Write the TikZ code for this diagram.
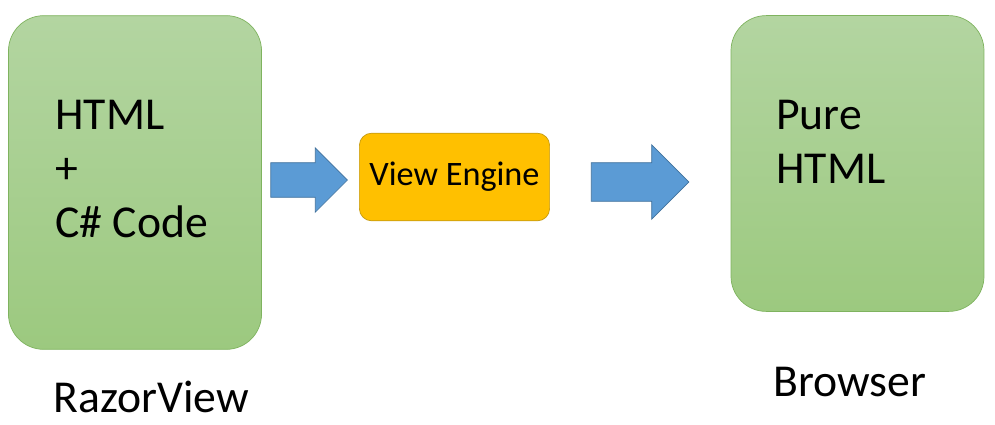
\documentclass[tikz,border=0pt]{standalone}
\usepackage{fontspec}
\setmainfont{Carlito}
\usetikzlibrary{shapes.arrows, positioning}
\definecolor{boxtop}{HTML}{B3D5A1}
\definecolor{boxbot}{HTML}{9CC97F}
\definecolor{boxline}{HTML}{7FB35F}
\definecolor{engfill}{HTML}{FFC000}
\definecolor{engline}{HTML}{C59A10}
\definecolor{arrfill}{HTML}{5B9BD5}
\definecolor{arrline}{HTML}{41719C}
\tikzstyle{panel} = [rectangle, rounded corners=20pt, draw=boxline, top color=boxtop, bottom color=boxbot, minimum width=254\pxu]
\tikzstyle{paneltext} = [anchor=north west, align=left, inner sep=0pt, font=\fontsize{26}{30.6}\selectfont]
\tikzstyle{engine} = [rectangle, rounded corners=7pt, draw=engline, fill=engfill, minimum width=191\pxu, minimum height=88\pxu, font=\fontsize{19.5}{24}\selectfont]
\tikzstyle{blockarrow} = [single arrow, draw=arrline, fill=arrfill, inner xsep=0pt]
\tikzstyle{caption} = [font=\fontsize{26}{32}\selectfont]
\newcommand{\pxu}{pt*0.5669}
\begin{document}
\begin{tikzpicture}[x=0.02cm, y=-0.02cm]
\useasboundingbox (0,0) rectangle (995,424);
\node (razor) [panel, minimum height=335\pxu] at (135,182.5) {};
\node (razortext) [paneltext] at (55,100) {HTML\\+\\C\# Code};
\node (browser) [panel, minimum height=297\pxu] at (857.5,163.5) {};
\node (browsertext) [paneltext] at (776,100) {Pure\\HTML};
\node (engine) [engine] at (454.5,177) {View Engine};
\node (toengine) [blockarrow, inner ysep=17\pxu, minimum height=77\pxu, single arrow head extend=15\pxu] at (300.5,180) {};
\node (tobrowser) [blockarrow, inner ysep=19\pxu, minimum height=98\pxu, single arrow head extend=18\pxu] at (630.5,182) {};
\node (razorlabel) [caption] at (151,397) {RazorView};
\node (browserlabel) [caption] at (850,382) {Browser};
\end{tikzpicture}
\end{document}
